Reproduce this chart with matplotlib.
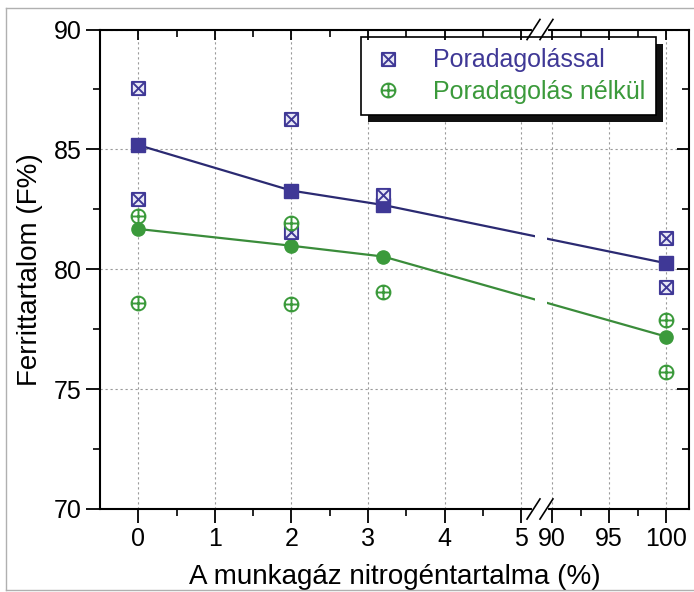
import matplotlib
matplotlib.use('Agg')
import matplotlib.pyplot as plt
import matplotlib.transforms as mtransforms
from matplotlib.patches import Rectangle
from matplotlib.lines import Line2D
from matplotlib.path import Path
import numpy as np

plt.rcParams['font.family'] = ['Liberation Sans', 'DejaVu Sans']

# nitrogen content of the working gas (%), x positions of the means
x_mean = [0, 2, 3.2, 100]

# with powder feeding
with_mean = [85.18, 83.28, 82.68, 80.25]
with_x = [0, 0, 2, 2, 3.2, 100, 100]
with_y = [87.55, 82.93, 86.26, 81.56, 83.10, 81.29, 79.27]

# without powder feeding
without_mean = [81.68, 80.98, 80.53, 77.19]
without_x = [0, 0, 2, 2, 3.2, 100, 100]
without_y = [82.22, 78.58, 81.94, 78.54, 79.07, 77.89, 75.73]

xticks = [0, 1, 2, 3, 4, 5, 90, 95, 100]
xticks_minor = [0.5, 1.5, 2.5, 3.5, 4.5, 92.5, 97.5]
yticks = [70, 75, 80, 85, 90]
yticks_minor = [72.5, 77.5, 82.5, 87.5]

BLUE = '#3f3896'
BLUE_LINE = '#2b2a72'
GREEN = '#3b9a3b'
GREEN_LINE = '#3a8c3a'

# broken x axis: 0..5.25 linear, 88.95..102 compressed
B1, B2, K = 5.25, 88.95, 11.4 / 76.6


def fwd(x):
    x = np.asarray(x, dtype=float)
    return np.where(x <= B1, x, np.where(x >= B2, B1 + (x - B2) * K, B1))


def inv(u):
    u = np.asarray(u, dtype=float)
    return np.where(u <= B1, u, B2 + (u - B1) / K)


# box with a cross, circle with a plus
box_x = Path([(-1, -1), (1, -1), (1, 1), (-1, 1), (-1, -1),
              (-1, -1), (1, 1), (-1, 1), (1, -1)],
             [1, 2, 2, 2, 79, 1, 2, 1, 2])
circ_plus = Path.make_compound_path(
    Path.unit_circle(),
    Path([(-1, 0), (1, 0)], [1, 2]),
    Path([(0, -1), (0, 1)], [1, 2]))

fig = plt.figure(figsize=(6.94, 5.92), dpi=100)
ax = fig.add_axes([100 / 694, 1 - 509 / 592, 589 / 694, 479.5 / 592])
ax.set_xscale('function', functions=(fwd, inv))
ax.set_xlim(-0.5, 102)
ax.set_ylim(70, 90)

ax.grid(True, which='major', color='#9a9a9a', linestyle=(0, (2, 2.5)), linewidth=0.8)
ax.set_axisbelow(True)

# trend lines, with a gap at the axis break
blend = mtransforms.blended_transform_factory(ax.transData, ax.transAxes)
for ys, col in [(with_mean, BLUE_LINE), (without_mean, GREEN_LINE)]:
    for x0, x1 in [(-0.5, 5.18), (89.55, 102)]:
        ln, = ax.plot(x_mean, ys, color=col, lw=1.6, zorder=2)
        ln.set_clip_path(Rectangle((x0, -0.1), x1 - x0, 1.2, transform=blend))

ax.plot(x_mean, with_mean, 's', color=BLUE, ms=10, mec=BLUE, zorder=3)
ax.plot(x_mean, without_mean, 'o', color=GREEN, ms=9.5, mec=GREEN, zorder=3)
ax.plot(with_x, with_y, ls='none', marker=box_x, ms=9.5, mfc='#e8e8f6',
        mec=BLUE, mew=1.4, zorder=3, label='Poradagolással')
ax.plot(without_x, without_y, ls='none', marker=circ_plus, ms=10, mfc='white',
        mec=GREEN, mew=1.4, zorder=3, label='Poradagolás nélkül')

ax.set_xticks(xticks, [str(t) for t in xticks])
ax.set_xticks(xticks_minor, minor=True)
ax.set_yticks(yticks, [str(t) for t in yticks])
ax.set_yticks(yticks_minor, minor=True)
ax.tick_params(which='major', direction='out', length=10, width=1.3,
               labelsize=18, pad=3, colors='black')
ax.tick_params(which='minor', direction='out', length=5, width=1.2)

ax.set_xlabel('A munkagáz nitrogéntartalma (%)', fontsize=20, labelpad=9)
ax.set_ylabel('Ferrittartalom (F%)', fontsize=20, labelpad=8)
for s in ax.spines.values():
    s.set_linewidth(1.5)

# inward ticks on top and right
axt = ax.twiny()
axt.set_xscale('function', functions=(fwd, inv))
axt.set_xlim(ax.get_xlim())
axt.set_xticks(xticks, [''] * len(xticks))
axt.set_xticks(xticks_minor, minor=True)
axt.tick_params(which='major', direction='in', length=7, width=1.3)
axt.tick_params(which='minor', direction='in', length=5, width=1.2)
axr = ax.twinx()
axr.set_ylim(ax.get_ylim())
axr.set_yticks(yticks, [''] * len(yticks))
axr.set_yticks(yticks_minor, minor=True)
axr.tick_params(which='major', direction='in', length=9, width=1.3)
axr.tick_params(which='minor', direction='in', length=5, width=1.2)
for a in (axt, axr):
    for s in a.spines.values():
        s.set_visible(False)

leg = ax.legend(loc='upper right', bbox_to_anchor=(0.944, 0.984),
                fontsize=18, frameon=True, fancybox=False, framealpha=1,
                edgecolor='black', borderpad=0.45, handlelength=1.2,
                handletextpad=1.2, labelspacing=0.3, borderaxespad=0)
leg.get_frame().set_linewidth(1.2)
for t, c in zip(leg.get_texts(), [BLUE, GREEN]):
    t.set_color(c)
leg.set_zorder(6)

# axis break marks
bx = 0.747
for yb in (0.0, 1.0):
    fig.add_artist(Line2D([bx - 0.011, bx + 0.011], [yb, yb], color='white',
                          lw=3, transform=ax.transAxes, zorder=10))
    for dx in (-0.011, 0.011):
        fig.add_artist(Line2D([bx + dx - 0.011, bx + dx + 0.011],
                              [yb - 0.021, yb + 0.021], color='black', lw=1.2,
                              transform=ax.transAxes, zorder=11))

# thin scan frame
for xs, ys in [([6, 6], [2, 584]), ([6, 694], [584, 584]), ([6, 694], [2, 2])]:
    fig.add_artist(Line2D([v / 694 for v in xs], [v / 592 for v in ys],
                          color='#b0b0b0', lw=1.0))

# black legend shadow
fig.canvas.draw()
bb = leg.get_window_extent()
ax.add_artist(Rectangle((bb.x0 + 7, bb.y0 - 7), bb.width, bb.height,
                        transform=mtransforms.IdentityTransform(),
                        facecolor='#111111', edgecolor='none', zorder=5.9))

fig.savefig('out.png', dpi=100)
